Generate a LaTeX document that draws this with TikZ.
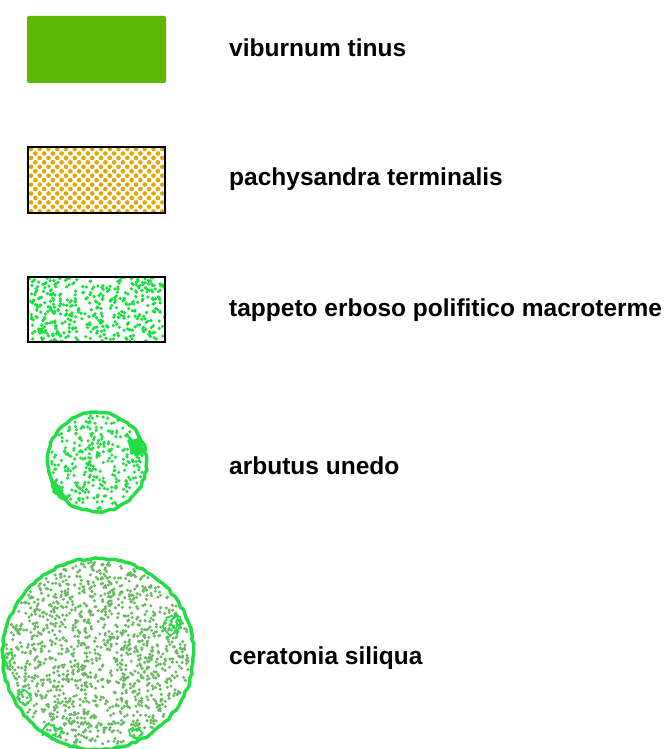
\documentclass[tikz,border=0pt]{standalone}
\usepackage{fontspec}
\setmainfont{Liberation Sans}
\usetikzlibrary{decorations.pathmorphing}
\definecolor{vgreen}{RGB}{92,184,0}
\definecolor{porange}{RGB}{226,166,0}
\definecolor{tgreen}{RGB}{20,225,60}
\definecolor{cgreen}{RGB}{34,221,68}
\definecolor{mgreen}{RGB}{104,186,96}
\tikzset{
  lbl/.style={anchor=base west, inner sep=0pt, font=\bfseries\fontsize{24.5}{28}\selectfont},
  swatch/.style={draw=black, line width=1.1pt},
  rim/.style={draw=cgreen, line width=3.4pt, line join=round, decorate,
    decoration={random steps, segment length=4pt, amplitude=1.1pt}},
  blob/.style={draw=cgreen, line width=1.7pt, line join=round, decorate,
    decoration={random steps, segment length=2.2pt, amplitude=2pt}},
}
\begin{document}
\begin{tikzpicture}[x=1pt,y=-1pt]
\useasboundingbox (0,0) rectangle (669,749);
\pgfmathsetseed{4242}
% viburnum tinus
\fill[vgreen, rounded corners=1.5pt] (27,16) rectangle (166,83);
\node[lbl] (t1) at (229,56.5) {viburnum tinus};
% pachysandra terminalis
\begin{scope}
\clip (28,147) rectangle (165,213);
\foreach \j in {0,...,15}{
  \pgfmathsetmacro\yy{149+4.45*\j}
  \pgfmathsetmacro\off{mod(\j,2)*4.4}
  \foreach \i in {0,...,16}{
    \fill[porange] ({31+\off+8.75*\i},\yy) circle (2.3);
  }
}
\end{scope}
\draw[swatch] (28,147) rectangle (165,213);
\node[lbl] (t2) at (229,185.5) {pachysandra terminalis};
% tappeto erboso
\begin{scope}
\clip (28,277) rectangle (165,342);
\foreach \i in {1,...,430}{
  \fill[tgreen] ({28+137*rnd},{277+65*rnd}) circle (1.8);
}
\end{scope}
\draw[swatch] (28,277) rectangle (165,342);
\node[lbl] (t3) at (229,316.5) {tappeto erboso polifitico macroterme};
% arbutus unedo
\foreach \i in {1,...,300}{
  \pgfmathsetmacro\rr{47*sqrt(rnd)}
  \pgfmathsetmacro\aa{360*rnd}
  \fill[cgreen, shift={(97,462)}] (\aa:\rr) circle (1.75);
}
\fill[cgreen, decorate, decoration={random steps, segment length=2pt, amplitude=1.5pt}] (128,440) -- (140,436) -- (145,450) -- (137,457) -- (130,452) -- cycle;
\fill[cgreen, decorate, decoration={random steps, segment length=2pt, amplitude=1.5pt}] (50,480) -- (60,485) -- (66,497) -- (58,498) -- (52,492) -- cycle;
\draw[rim] (97,462) circle (49.5);
\coordinate (c1) at (97,462);
\node[lbl] (t4) at (229,474.5) {arbutus unedo};
% ceratonia siliqua
\foreach \i in {1,...,1300}{
  \pgfmathsetmacro\rr{92*sqrt(rnd)}
  \pgfmathsetmacro\aa{360*rnd}
  \fill[mgreen, shift={(98,654)}] (\aa:\rr) circle (1.7);
}
\draw[blob] (172,625) ellipse (8 and 9);
\draw[blob] (176,622) ellipse (4 and 6);
\draw[blob] (52,731) ellipse (10 and 5);
\draw[blob] (24,697) ellipse (6 and 7);
\draw[blob] (136,733) ellipse (6 and 4);
\draw[blob] (8,660) ellipse (3 and 6);
\draw[rim] (98,654) circle (95.5);
\coordinate (c2) at (98,654);
\node[lbl] (t5) at (229,664.5) {ceratonia siliqua};
\end{tikzpicture}
\end{document}
